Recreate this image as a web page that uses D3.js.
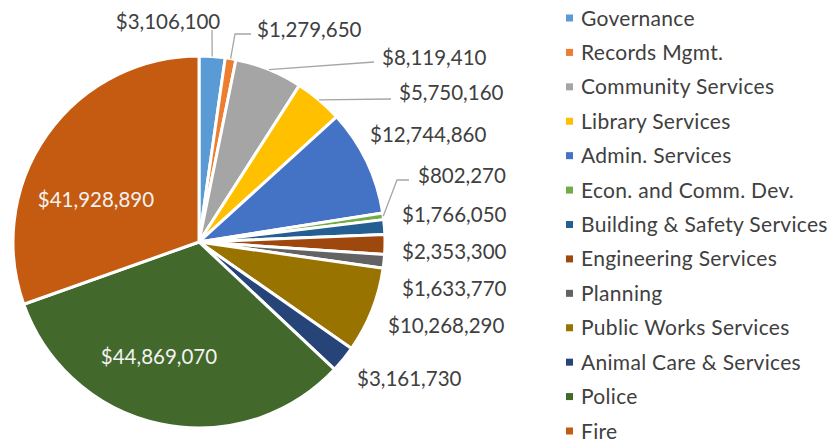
<!DOCTYPE html>
<html>
<head>
<meta charset="utf-8">
<script src="https://cdn.jsdelivr.net/npm/d3@7"></script>
<style>
  html, body { margin: 0; padding: 0; background: #ffffff; }
  svg { display: block; }
  text { font-family: Lato, "Open Sans", sans-serif; }
</style>
</head>
<body>
<div id="chart"></div>
<script>
// Budget by department
const departments = [
  "Governance", "Records Mgmt.", "Community Services", "Library Services",
  "Admin. Services", "Econ. and Comm. Dev.", "Building & Safety Services",
  "Engineering Services", "Planning", "Public Works Services",
  "Animal Care & Services", "Police", "Fire"
];
const budgets = [
  3106100, 1279650, 8119410, 5750160, 12744860, 802270, 1766050,
  2353300, 1633770, 10268290, 3161730, 44869070, 41928890
];
const sliceColors = [
  "#5b9bd5", "#ed7d31", "#a5a5a5", "#ffc000", "#4472c4", "#70ad47", "#255e91",
  "#9e480e", "#636363", "#997300", "#264478", "#43682b", "#c55a11"
];

// Label placement: text anchor point, alignment, and optional leader-line bends
const labelLayout = [
  { x: 168, y: 22, anchor: "middle", line: [[212, 30]] },
  { x: 257, y: 30, anchor: "start", line: [[235, 34], [251, 34]] },
  { x: 382, y: 58, anchor: "start", line: [[374, 62]] },
  { x: 399, y: 93, anchor: "start", line: [[391, 99]] },
  { x: 370, y: 135, anchor: "start" },
  { x: 418, y: 176, anchor: "start", line: [[397, 180], [409, 180]] },
  { x: 402, y: 215, anchor: "start" },
  { x: 402, y: 252, anchor: "start" },
  { x: 402, y: 289, anchor: "start" },
  { x: 388, y: 326, anchor: "start" },
  { x: 357, y: 379, anchor: "start" },
  { x: 159, y: 357, anchor: "middle", inside: true },
  { x: 96, y: 200, anchor: "middle", inside: true }
];

const width = 833, height = 447;
const cx = 199, cy = 242, radius = 186;

const data = departments.map((name, i) => ({ name, value: budgets[i], color: sliceColors[i], layout: labelLayout[i] }));

const svg = d3.select("#chart").append("svg")
  .attr("width", width).attr("height", height);

const pie = d3.pie().value(d => d.value).sort(null);
const arc = d3.arc().innerRadius(0).outerRadius(radius);
const arcs = pie(data);

const g = svg.append("g").attr("transform", `translate(${cx},${cy})`);

g.selectAll("path.slice")
  .data(arcs)
  .join("path")
  .attr("class", "slice")
  .attr("d", arc)
  .attr("fill", d => d.data.color)
  .attr("stroke", "#ffffff")
  .attr("stroke-width", 3)
  .attr("stroke-linejoin", "round");

const fmt = v => "$" + d3.format(",")(v);

// Leader lines from the slice edge to the label
const lineGen = d3.line();
arcs.forEach(d => {
  const lay = d.data.layout;
  if (!lay.line) return;
  const mid = (d.startAngle + d.endAngle) / 2;
  const start = [cx + radius * Math.sin(mid), cy - radius * Math.cos(mid)];
  svg.append("path")
    .attr("d", lineGen([start, ...lay.line]))
    .attr("fill", "none")
    .attr("stroke", "#a6a6a6")
    .attr("stroke-width", 1.3);
});

svg.selectAll("text.value")
  .data(arcs)
  .join("text")
  .attr("class", "value")
  .attr("x", d => d.data.layout.x)
  .attr("y", d => d.data.layout.y)
  .attr("dy", "0.36em")
  .attr("text-anchor", d => d.data.layout.anchor)
  .attr("font-size", "20.5px")
  .attr("fill", d => d.data.layout.inside ? "#f2f2f2" : "#404040")
  .text(d => fmt(d.data.value));

// Legend
const legendY = d3.scalePoint().domain(departments).range([18, 431]);
const legend = svg.append("g");
const rows = legend.selectAll("g.row")
  .data(data)
  .join("g")
  .attr("class", "row")
  .attr("transform", d => `translate(566,${legendY(d.name)})`);
rows.append("rect")
  .attr("x", 0).attr("y", -3.5)
  .attr("width", 7).attr("height", 7)
  .attr("fill", d => d.color);
rows.append("text")
  .attr("x", 15).attr("y", 0)
  .attr("dy", "0.36em")
  .attr("font-size", "21px")
  .attr("letter-spacing", "0.3px")
  .attr("fill", "#404040")
  .text(d => d.name);
</script>
</body>
</html>
